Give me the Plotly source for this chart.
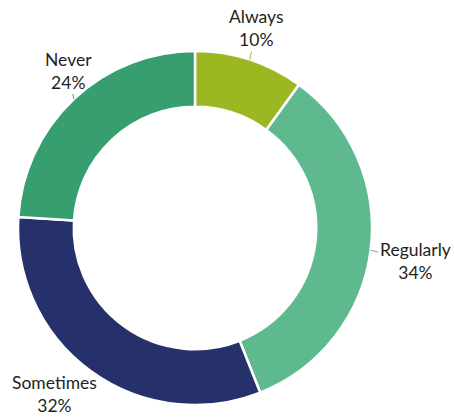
import math
import plotly.graph_objects as go

# Survey answer shares
categories = ["Always", "Regularly", "Sometimes", "Never"]
shares = [10, 34, 32, 24]
colors = ["#9BB823", "#5EBA8E", "#26316B", "#379E70"]

W, H = 454, 417
CX, CY, R = 195, 228, 177  # pie centre and outer radius in pixels
HOLE = 0.685

# small hand nudges (px) for each label box, in slice order
label_nudge = [(-5, -1), (-6, 7), (-7, -3), (18, -5)]

fig = go.Figure(
    go.Pie(
        labels=categories,
        values=shares,
        sort=False,
        direction="clockwise",
        rotation=0,
        hole=HOLE,
        marker=dict(colors=colors, line=dict(color="white", width=2.5)),
        textinfo="none",
        hoverinfo="label+percent",
        showlegend=False,
        domain=dict(
            x=[(CX - R) / W, (CX + R) / W],
            y=[(H - CY - R) / H, (H - CY + R) / H],
        ),
    )
)

# Outside labels with short leader lines, placed at each slice's mid-angle
total = sum(shares)
start = 0.0
for name, val, col, (nx, ny) in zip(categories, shares, colors, label_nudge):
    frac = val / total
    mid = (start + frac / 2) * 2 * math.pi
    start += frac
    s, c = math.sin(mid), math.cos(mid)
    pct = f"{round(frac * 100)}%"
    tw = max(len(name), len(pct)) * 8.2 + 4
    th = 40
    # edge point on the ring
    px, py = CX + R * s, CY - R * c
    # text centre: past the leader end, shifted by half the box size
    L = 12
    tx = CX + (R + L) * s + s * tw / 2 + nx
    ty = CY - (R + L) * c - c * th / 2 + ny
    fig.add_annotation(
        x=px / W,
        y=1 - py / H,
        xref="paper",
        yref="paper",
        ax=tx - px,
        ay=ty - py,
        text=f"{name}<br>{pct}",
        showarrow=True,
        arrowhead=0,
        arrowwidth=1,
        arrowcolor=col,
        standoff=0,
        startstandoff=0,
        font=dict(family="Lato", size=17.5, color="#231F20"),
        align="center",
    )

fig.update_layout(
    width=W,
    height=H,
    margin=dict(l=0, r=0, t=0, b=0),
    paper_bgcolor="white",
    plot_bgcolor="white",
)

fig.write_html("out.html")
